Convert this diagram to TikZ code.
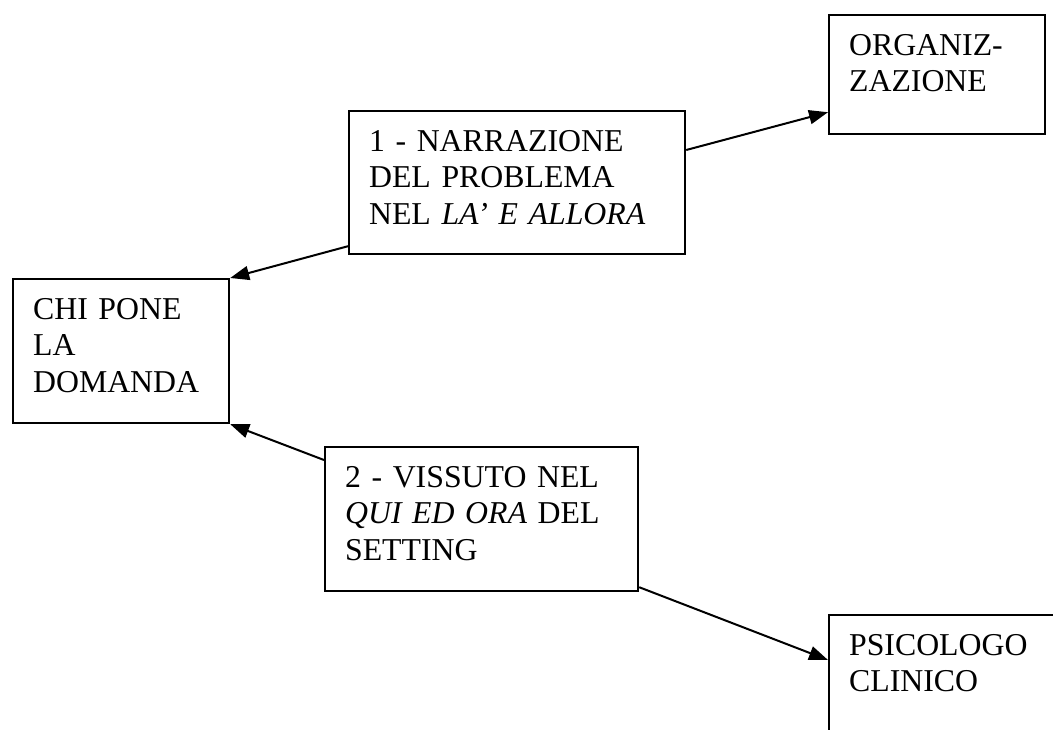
\documentclass[tikz,border=0pt]{standalone}
\usepackage{fontspec}
\setmainfont{Liberation Serif}
\usetikzlibrary{arrows.meta}

\begin{document}
\begin{tikzpicture}[x=0.5pt,y=-0.5pt,
	box/.style={draw, line width=1.1pt, anchor=north west, inner xsep=10pt, inner ysep=0pt,
		text height=20pt, align=left, font=\fontsize{15.9}{18.3}\selectfont},
	link/.style={line width=1pt, -{Triangle[length=9.5pt,width=7pt]}}]
\useasboundingbox (0,0) rectangle (1053,729);

\node[box, text width=88pt, text depth=39.5pt] (org) at (828,14) {ORGANIZ-\\ZAZIONE};
\node[box, text width=148pt, text depth=51.5pt] (narr) at (348,110) {1 - NARRAZIONE\\DEL PROBLEMA\\NEL \textit{LA’ E ALLORA}};
\node[box, text width=88pt, text depth=52pt] (chi) at (12,278) {CHI PONE\\LA\\DOMANDA};
\node[box, text width=136.5pt, text depth=52pt] (viss) at (324,446) {2 - VISSUTO NEL\\\textit{QUI ED ORA} DEL\\SETTING};
\node[box, text width=100pt, text depth=55pt] (psi) at (828,614) {PSICOLOGO\\CLINICO};

\draw[link] ([yshift=4.5pt]narr.south west) -- (chi.north east);
\draw[link] ([yshift=-20pt]narr.north east) -- ([yshift=11.5pt]org.south west);
\draw[link] ([yshift=-7pt]viss.north west) -- (chi.south east);
\draw[link] ([yshift=2.5pt]viss.south east) -- ([yshift=-23pt]psi.north west);
\end{tikzpicture}
\end{document}
